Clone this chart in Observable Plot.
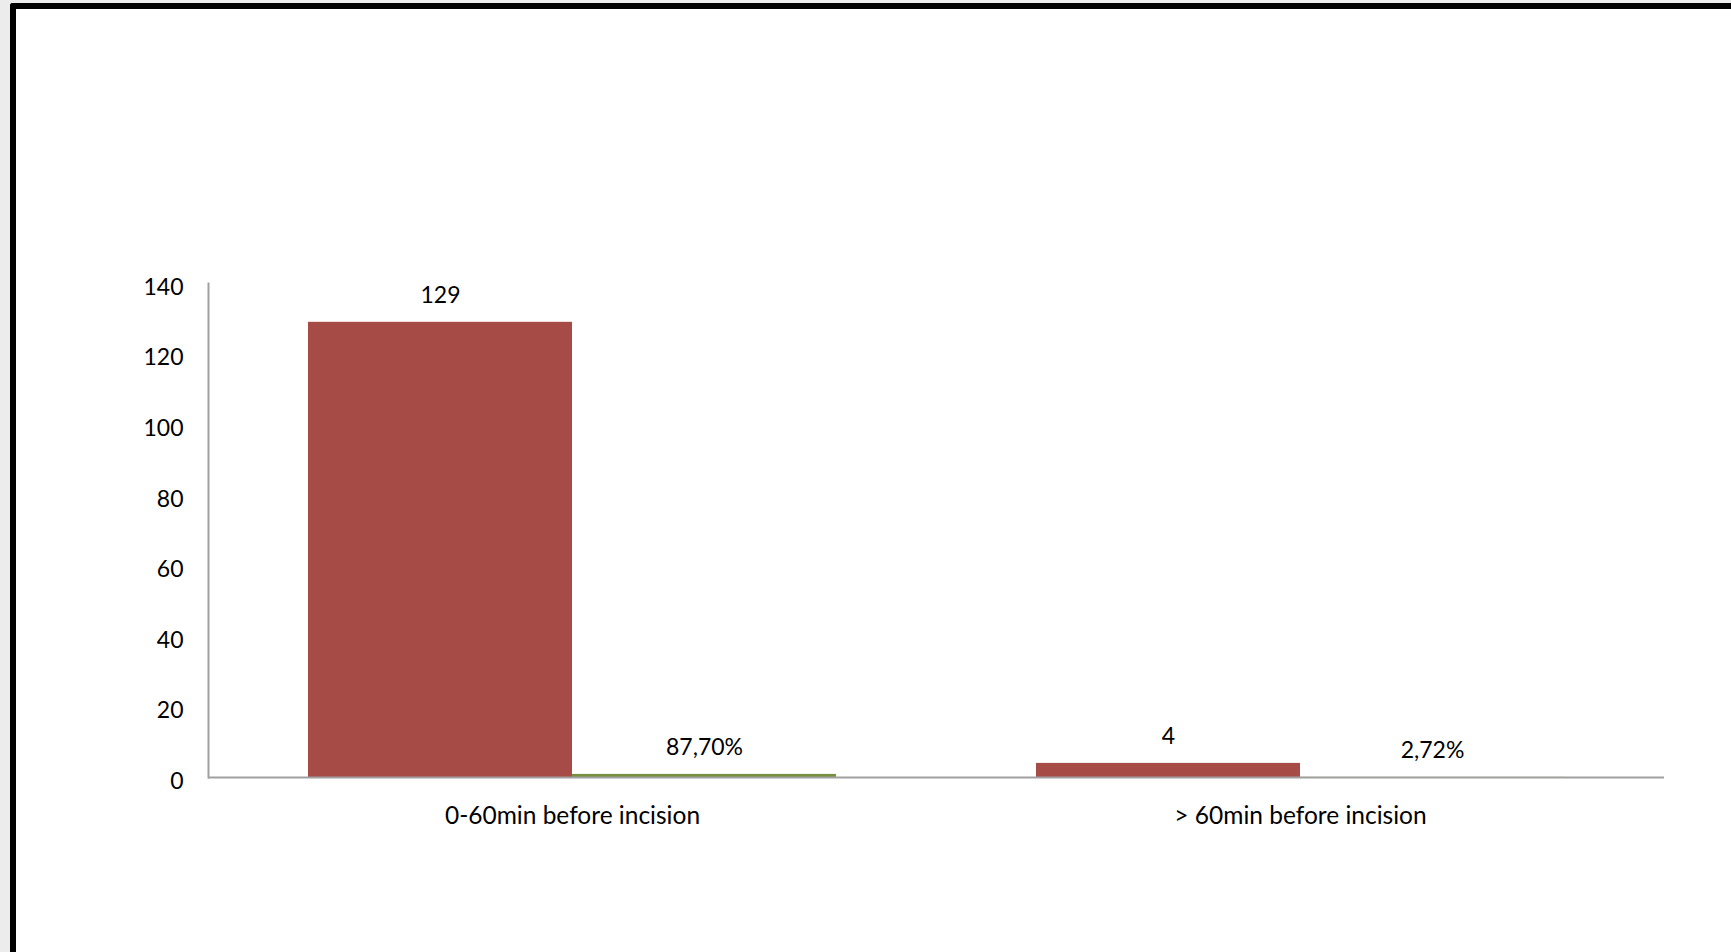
<!DOCTYPE html>
<html>
<head>
<meta charset="utf-8">
<script src="https://cdn.jsdelivr.net/npm/d3@7"></script>
<script src="https://cdn.jsdelivr.net/npm/@observablehq/plot@0.6"></script>
<style>
  html, body { margin: 0; padding: 0; width: 1731px; height: 952px; overflow: hidden; background: #ececec; }
  #frame { position: absolute; left: 10px; top: 3px; right: 0; bottom: 0; background: #fff;
           border-left: 6px solid #000; border-top: 6px solid #000; border-top-left-radius: 3px; }
  #chart { position: absolute; left: 0; top: 0; }
</style>
</head>
<body>
<div id="frame"></div>
<div id="chart"></div>
<script>
const categories = ["0-60min before incision", "> 60min before incision"];
const series = ["Effectif", "Pourcentage"];
const counts = [129, 4];
const percents = [0.877, 0.0272];
const yTicks = [0, 20, 40, 60, 80, 100, 120, 140];
const colors = ["#A64B45", "#76903F"];

const pctFmt = d3.formatLocale({decimal: ",", thousands: ".", grouping: [3], currency: ["", "€"]}).format(".2%");

const rows = categories.flatMap((c, i) => [
  {category: c, series: series[0], value: counts[i], label: String(counts[i])},
  {category: c, series: series[1], value: percents[i], label: pctFmt(percents[i])}
]);

const font = "Lato, 'Open Sans', sans-serif";

const chart = Plot.plot({
  width: 1731,
  height: 952,
  marginLeft: 208,
  marginRight: 67,
  marginTop: 283,
  marginBottom: 175,
  style: {fontFamily: font, fontSize: "23px", background: "transparent", color: "#000", overflow: "visible"},
  fx: {domain: categories, padding: 0, label: null, axis: null},
  x: {domain: series, paddingInner: 0, paddingOuter: 0.3736, axis: null},
  y: {domain: [0, 140], axis: null},
  color: {domain: series, range: colors},
  marks: [
    Plot.barY(rows, {fx: "category", x: "series", y: "value", fill: "series"}),
    Plot.ruleY([0], {stroke: "#A0A0A0", strokeWidth: 2}),
    Plot.frame({anchor: "left", facetAnchor: "left", stroke: "#A0A0A0", strokeWidth: 2}),
    Plot.axisY({ticks: yTicks, tickSize: 0, tickPadding: 25, dy: 4, fontSize: 23, label: null, facetAnchor: "left"}),
    Plot.axisFx({anchor: "bottom", tickSize: 0, tickPadding: 29.5, fontSize: 24.5, label: null}),
    Plot.text(rows, {fx: "category", x: "series", y: "value", text: "label", dy: -27, fontSize: 23, fill: "#000"})
  ]
});
document.getElementById("chart").append(chart);
</script>
</body>
</html>
